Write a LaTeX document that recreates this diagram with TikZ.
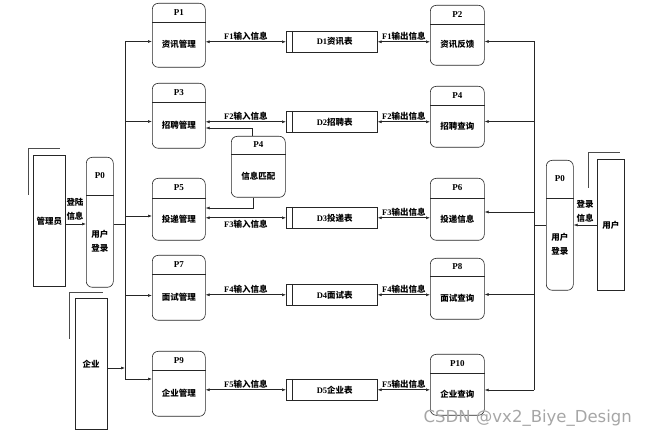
\documentclass[tikz,border=0pt]{standalone}
\usepackage{fontspec}
\setmainfont{Liberation Serif}
\newfontfamily\cjk{Noto Sans CJK SC}
\newfontfamily\wmfont{DejaVu Sans}
\usetikzlibrary{arrows.meta,calc}
\newcommand\cj[1]{{\cjk\bfseries #1}}
\tikzset{
 x=1pt, y=-1pt,
 ln/.style={line width=0.6pt, draw=black!85},
 procbox/.style={ln, rounded corners=6pt, inner sep=0pt, fill=white},
 storebox/.style={ln, inner sep=0pt, minimum width=91pt, minimum height=21pt},
 ttl/.style={font=\bfseries\fontsize{9}{10}\selectfont, inner sep=0pt},
 txt/.style={font=\bfseries\fontsize{8.5}{14}\selectfont, inner sep=0pt, align=center},
 ar/.style={ln, -{Latex[length=4pt,width=3pt]}},
 dar/.style={ln, {Latex[length=4pt,width=3pt]}-{Latex[length=4pt,width=3pt]}},
 shadowln/.style={line width=0.6pt, draw=black!70},
 entity/.style={ln, inner sep=0pt, anchor=north west},
}
\newcommand\proc[8]{%
 \node[procbox, anchor=north west, minimum width=#4pt, minimum height=#5pt] (#1) at (#2,#3) {};
 \coordinate (#1-hl) at ($(#1.north west)+(0,#6)$);
 \coordinate (#1-hr) at ($(#1.north east)+(0,#6)$);
 \draw[ln] (#1-hl) -- (#1-hr);
 \node[ttl] (#1-t) at ($(#1.north)+(0,#6/2)$) {#7};
 \node[txt] (#1-b) at ($(#1-hl)!0.5!(#1.south east)$) {#8};
}
\newcommand\store[4]{%
 \node[storebox, anchor=north west] (#1) at (#2,#3) {};
 \draw[ln] ($(#1.north west)+(6,0)$) -- ($(#1.south west)+(6,0)$);
 \node[txt] (#1-l) at ($(#1.center)+(3,0)$) {#4};
}
\begin{document}
\begin{tikzpicture}
\useasboundingbox (0,0) rectangle (646,438);
% left processes
\proc{p1}{152}{3}{53}{64}{19}{P1}{\cj{资讯管理}}
\proc{p3}{152}{83}{53}{65}{19}{P3}{\cj{招聘管理}}
\proc{p5}{152}{178}{53}{62}{20}{P5}{\cj{投递管理}}
\proc{p7}{152}{255}{53}{65}{19}{P7}{\cj{面试管理}}
\proc{p9}{152}{351}{53}{65}{19}{P9}{\cj{企业管理}}
% right processes
\proc{p2}{430}{5}{54}{60}{19}{P2}{\cj{资讯反馈}}
\proc{p4}{430}{86}{54}{61}{19}{P4}{\cj{招聘查询}}
\proc{p6}{430}{178}{54}{62}{20}{P6}{\cj{投递信息}}
\proc{p8}{430}{258}{54}{61}{18}{P8}{\cj{面试查询}}
\proc{p10}{430}{354}{54}{61}{19}{P10}{\cj{企业查询}}
% middle process
\proc{p4m}{231}{136}{54}{61}{18}{P4}{\cj{信息匹配}}
% P0s
\proc{pa0}{86}{157}{27}{130}{38}{P0}{\cj{用户}\\\cj{登录}}
\proc{pb0}{546}{160}{27}{130}{38}{P0}{\cj{用户}\\\cj{登录}}
% stores
\store{d1}{286}{31}{D1\cj{资讯表}}
\store{d2}{286}{111}{D2\cj{招聘表}}
\store{d3}{286}{207}{D3\cj{投递表}}
\store{d4}{286}{284}{D4\cj{面试表}}
\store{d5}{286}{379}{D5\cj{企业表}}
% entities
\node[entity, minimum width=32pt, minimum height=131pt] (adm) at (33,155) {};
\node[txt] (adm-l) at (adm.center) {\cj{管理员}};
\draw[shadowln] (28,195) -- (28,148) -- (60,148);
\node[entity, minimum width=32pt, minimum height=131pt] (ent) at (75,298) {};
\node[txt] (ent-l) at (91,364) {\cj{企业}};
\draw[shadowln] (69,339) -- (69,292) -- (103,292);
\node[entity, minimum width=27pt, minimum height=131pt] (usr) at (597,159) {};
\node[txt] (usr-l) at (usr.center) {\cj{用户}};
\draw[shadowln] (588,188) -- (588,152) -- (620,152);
% flows left-store-right
\draw[dar] (p1.east |- d1.west) -- (d1.west) node[midway, above=1pt, txt] {F1\cj{输入信息}};
\draw[dar] (d1.east) -- (d1.east -| p2.west) node[midway, above=1pt, txt] {F1\cj{输出信息}};
\draw[dar] (p3.east |- d2.west) -- (d2.west) node[midway, above=1pt, txt] {F2\cj{输入信息}};
\draw[dar] (d2.east) -- (d2.east -| p4.west) node[midway, above=1pt, txt] {F2\cj{输出信息}};
\draw[dar] (p5.east |- d3.west) -- (d3.west) node[midway, below=2pt, txt] {F3\cj{输入信息}};
\draw[dar] (d3.east) -- (d3.east -| p6.west) node[midway, above=1pt, txt] {F3\cj{输出信息}};
\draw[dar] (p7.east |- d4.west) -- (d4.west) node[midway, above=1pt, txt] {F4\cj{输入信息}};
\draw[dar] (d4.east) -- (d4.east -| p8.west) node[midway, above=1pt, txt] {F4\cj{输出信息}};
\draw[dar] (p9.east |- d5.west) -- (d5.west) node[midway, above=1pt, txt] {F5\cj{输入信息}};
\draw[dar] (d5.east) -- (d5.east -| p10.west) node[midway, above=1pt, txt] {F5\cj{输出信息}};
% P4 matching links
\coordinate (M1) at (252,128);
\coordinate (M2) at (253,208);
\draw[ar] (M1 |- p4m.north) -- (M1) -- (M1 -| p3.east);
\draw[ar] (M2 |- p4m.south) -- (M2) -- (M2 -| p5.east);
% left trunk
\coordinate (L1) at (125,41.5);
\coordinate (L3) at (125,121.5);
\coordinate (L5) at (125,216);
\coordinate (L7) at (125,295.5);
\coordinate (L9) at (125,379);
\coordinate (LJ) at (125,224);
\coordinate (LE) at (125,368);
\draw[ln] (L1) -- (L9);
\draw[ar] (L1) -- (L1 -| p1.west);
\draw[ar] (L3) -- (L3 -| p3.west);
\draw[ar] (L5) -- (L5 -| p5.west);
\draw[ar] (L7) -- (L7 -| p7.west);
\draw[ar] (L9) -- (L9 -| p9.west);
\draw[ln] (LJ -| pa0.east) -- (LJ);
\draw[ar] (adm.east |- LJ) -- (LJ -| pa0.west);
\node[txt] (lbl-a) at (75,209) {\cj{登陆}\\\cj{信息}};
\draw[ar] (ent.east |- LE) -- (LE);
% right trunk
\coordinate (R1) at (534,41.5);
\coordinate (R2) at (534,121.5);
\coordinate (R6) at (534,212);
\coordinate (R8) at (534,294.5);
\coordinate (R10) at (534,390);
\coordinate (RJ) at (534,225);
\draw[ln] (R1) -- (R10);
\draw[ar] (R1) -- (R1 -| p2.east);
\draw[ar] (R2) -- (R2 -| p4.east);
\draw[ar] (R6) -- (R6 -| p6.east);
\draw[ar] (R8) -- (R8 -| p8.east);
\draw[ar] (R10) -- (R10 -| p10.east);
\draw[ln] (RJ -| pb0.west) -- (RJ);
\draw[ar] (usr.west |- RJ) -- (RJ -| pb0.east);
\node[txt] (lbl-u) at (585,211) {\cj{登录}\\\cj{信息}};
% watermark
\node[text=black!35, font=\wmfont\fontsize{16.5}{16.5}\selectfont, anchor=east, inner sep=0pt] (wm) at (632,418) {CSDN @vx2\_Biye\_Design};
\end{tikzpicture}
\end{document}
